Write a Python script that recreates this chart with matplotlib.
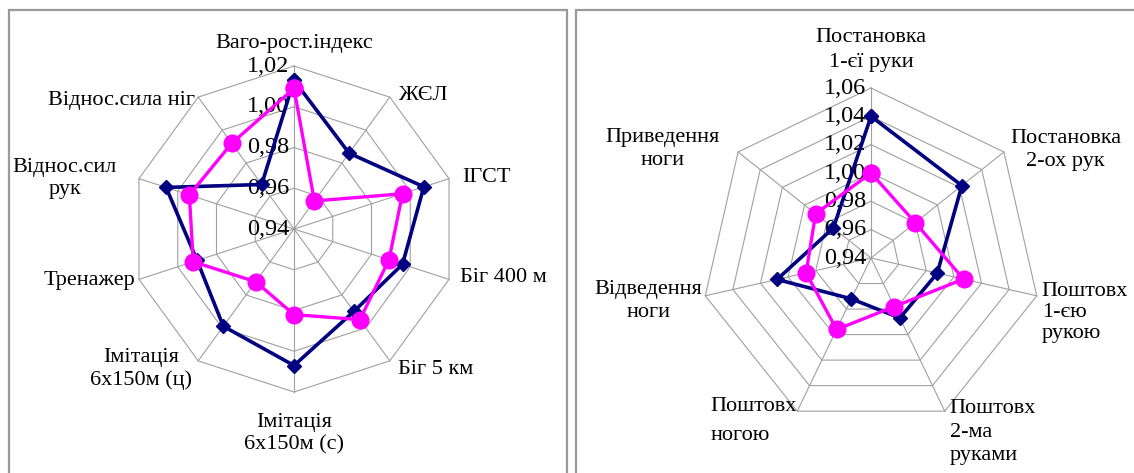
import numpy as np
import matplotlib.pyplot as plt
from matplotlib.patches import Rectangle

plt.rcParams['font.family'] = ['Liberation Serif', 'DejaVu Serif']
plt.rcParams['font.size'] = 16

# Left chart: general indicators
left_labels = ['Ваго-рост.індекс', 'ЖЄЛ', 'ІГСТ', 'Біг 400 м', 'Біг 5 км',
               'Імітація\n6х150м (с)', 'Імітація\n6х150м (ц)', 'Тренажер',
               'Віднос.сил\nрук', 'Віднос.сила ніг']
left_navy = [1.013, 0.986, 1.007, 0.996, 0.990, 1.007, 0.999, 0.990, 1.006, 0.967]
left_pink = [1.009, 0.957, 0.996, 0.989, 0.995, 0.982, 0.972, 0.992, 0.994, 0.992]
left_ticks = [0.94, 0.96, 0.98, 1.00, 1.02]

# Right chart: technique elements
right_labels = ['Постановка\n1-єї руки', 'Постановка\n2-ох рук', 'Поштовх\n1-єю\nрукою',
                'Поштовх\n2-ма\nруками', 'Поштовх\nногою', 'Відведення\nноги',
                'Приведення\nноги']
right_navy = [1.040, 1.022, 0.988, 0.987, 0.972, 1.008, 0.974]
right_pink = [1.000, 0.980, 1.007, 0.978, 0.996, 0.987, 0.990]
right_ticks = [0.94, 0.96, 0.98, 1.00, 1.02, 1.04, 1.06]

# label placement: offset in pixels from the outer vertex, ha, multialignment, linespacing
left_place = [(0, 23, 'center', 'center', 1.2), (8, 2, 'left', 'left', 1.2),
              (13, 1, 'left', 'left', 1.2), (11, 2, 'left', 'left', 1.2),
              (8, -9, 'left', 'left', 1.2), (0, -42, 'center', 'center', 1.25),
              (-6, -8, 'right', 'center', 1.25), (-4, -1, 'right', 'right', 1.2),
              (-22, 0, 'right', 'center', 1.25), (-3, -3, 'right', 'right', 1.2)]
right_place = [(0, 38, 'center', 'center', 1.4), (6, 2, 'left', 'center', 1.35),
               (5, -17, 'left', 'left', 1.15), (5, -21, 'left', 'left', 1.3),
               (0, -10, 'right', 'left', 1.7), (-3, -5, 'right', 'center', 1.25),
               (-18, 3, 'right', 'center', 1.25)]

NAVY = '#000080'
PINK = '#ff00ff'
GRID = '#a0a0a0'


def radar(ax, labels, navy, pink, ticks, place):
    n = len(labels)
    ang = np.arange(n) * 2 * np.pi / n
    ang_c = np.append(ang, ang[0])
    rmin, rmax = ticks[0], ticks[-1]
    ax.set_theta_zero_location('N')
    ax.set_theta_direction(-1)
    ax.set_ylim(rmin, rmax)
    ax.grid(False)
    ax.set_xticks([])
    ax.set_yticks([])
    ax.spines['polar'].set_visible(False)
    ax.patch.set_visible(False)

    # polygon rings and spokes
    for t in ticks[1:]:
        ax.plot(ang_c, [t] * (n + 1), color=GRID, lw=0.8, zorder=1, clip_on=False)
    for a in ang:
        ax.plot([a, a], [rmin, rmax], color=GRID, lw=0.8, zorder=1, clip_on=False)

    for t in ticks:
        ax.annotate(f'{t:.2f}'.replace('.', ','), xy=(0, t), xytext=(-5, 0),
                    textcoords='offset pixels', ha='right', va='center', zorder=2,
                    fontsize=17.5, annotation_clip=False)

    for a, lab, (dx, dy, ha, ma, ls) in zip(ang, labels, place):
        ax.annotate(lab, xy=(a, rmax), xytext=(dx, dy), textcoords='offset pixels',
                    ha=ha, va='center', multialignment=ma, linespacing=ls,
                    annotation_clip=False)

    ax.plot(ang_c, np.append(navy, navy[0]), color=NAVY, lw=2.6, marker='D',
            ms=7.5, zorder=4, clip_on=False)
    ax.plot(ang_c, np.append(pink, pink[0]), color=PINK, lw=2.4, marker='o',
            ms=12, zorder=5, clip_on=False)


W, H = 1134, 473
fig = plt.figure(figsize=(W / 100, H / 100), dpi=100)

# panel frames
fig.add_artist(Rectangle((9 / W, -0.1), 558 / W, 1.1 - 10 / H, transform=fig.transFigure,
                         fill=False, ec='#9a9a9a', lw=1.6))
fig.add_artist(Rectangle((576 / W, -0.1), 600 / W, 1.1 - 10 / H, transform=fig.transFigure,
                         fill=False, ec='#9a9a9a', lw=1.6))

cx, cy, r = 294, 229, 163
ax1 = fig.add_axes([(cx - r) / W, (H - cy - r) / H, 2 * r / W, 2 * r / H], projection='polar')
radar(ax1, left_labels, left_navy, left_pink, left_ticks, left_place)

cx, cy, r = 871, 258, 170
ax2 = fig.add_axes([(cx - r) / W, (H - cy - r) / H, 2 * r / W, 2 * r / H], projection='polar')
radar(ax2, right_labels, right_navy, right_pink, right_ticks, right_place)

fig.savefig('out.png', dpi=100)
